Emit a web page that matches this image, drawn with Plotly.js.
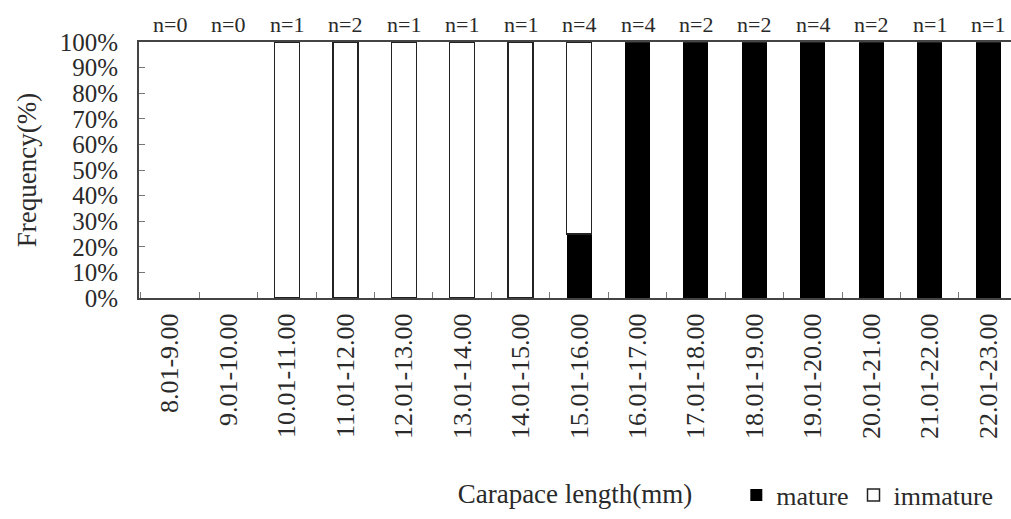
<!DOCTYPE html>
<html>
<head>
<meta charset="utf-8">
<script src="https://cdn.plot.ly/plotly-3.0.1.min.js"></script>
<style>html,body{margin:0;padding:0;background:#fff;overflow:hidden}</style>
</head>
<body>
<div id="chart" style="width:1011px;height:519px"></div>
<script>
const categories = ["8.01-9.00","9.01-10.00","10.01-11.00","11.01-12.00","12.01-13.00","13.01-14.00","14.01-15.00","15.01-16.00","16.01-17.00","17.01-18.00","18.01-19.00","19.01-20.00","20.01-21.00","21.01-22.00","22.01-23.00"];
// null where no specimens were sampled (n=0)
const mature   = [null,null,0,0,0,0,0,0.25,1,1,1,1,1,1,1];
const immature = [null,null,1,1,1,1,1,0.75,0,0,0,0,0,0,0];
const sampleN  = [0,0,1,2,1,1,1,4,4,2,2,4,2,1,1];
const yTickVals = [0,0.1,0.2,0.3,0.4,0.5,0.6,0.7,0.8,0.9,1];

const FONT = 'Liberation Serif';
const TXT = '#2a2a2a';

const traces = [
  {type:'bar', name:'mature', x:categories, y:mature,
   marker:{color:'#000', line:{color:'#000', width:0}}, hoverinfo:'skip'},
  {type:'bar', name:'immature', x:categories, y:immature,
   marker:{color:'#fff', line:{color:'#222', width:1.5}}, hoverinfo:'skip'}
];

const annotations = categories.map((c,i)=>({
  x:c, xref:'x', y:1, yref:'paper', yanchor:'middle', yshift:18,
  text:'n=' + sampleN[i], showarrow:false,
  font:{family:FONT, size:22, color:TXT}
}));

const layout = {
  width:1011, height:519,
  margin:{l:139, r:0, t:42, b:221, pad:0},
  paper_bgcolor:'#fff', plot_bgcolor:'#fff',
  font:{family:FONT, color:TXT},
  barmode:'stack', bargap:0.572,
  showlegend:true,
  legend:{orientation:'h', x:0.685, xanchor:'left', y:-0.77, yanchor:'middle',
          font:{family:FONT, size:26, color:TXT}, traceorder:'normal',
          bgcolor:'rgba(0,0,0,0)', itemwidth:30},
  xaxis:{type:'category', range:[-0.53,14.39], tickson:'boundaries',
         ticks:'inside', ticklen:6, tickcolor:'#777', tickwidth:1,
         showline:true, linecolor:'#444', linewidth:2, mirror:true,
         showgrid:false, zeroline:false, tickangle:-90,
         ticklabelstandoff:3,
         tickfont:{family:FONT, size:26, color:TXT},
         title:{text:'Carapace length(mm)', font:{family:FONT, size:27, color:TXT}, standoff:46},
         automargin:false, fixedrange:true},
  yaxis:{range:[0,1], tickvals:yTickVals, tickformat:'.0%',
         ticks:'inside', ticklen:6, tickcolor:'#777', tickwidth:1,
         showline:true, linecolor:'#444', linewidth:2,
         showgrid:false, zeroline:false,
         ticklabelstandoff:14,
         tickfont:{family:FONT, size:25, color:TXT},
         title:{text:'Frequency(%)', font:{family:FONT, size:27, color:TXT}, standoff:15},
         automargin:false, fixedrange:true},
  annotations:annotations
};

Plotly.newPlot('chart', traces, layout, {staticPlot:true, displayModeBar:false});
</script>
</body>
</html>
